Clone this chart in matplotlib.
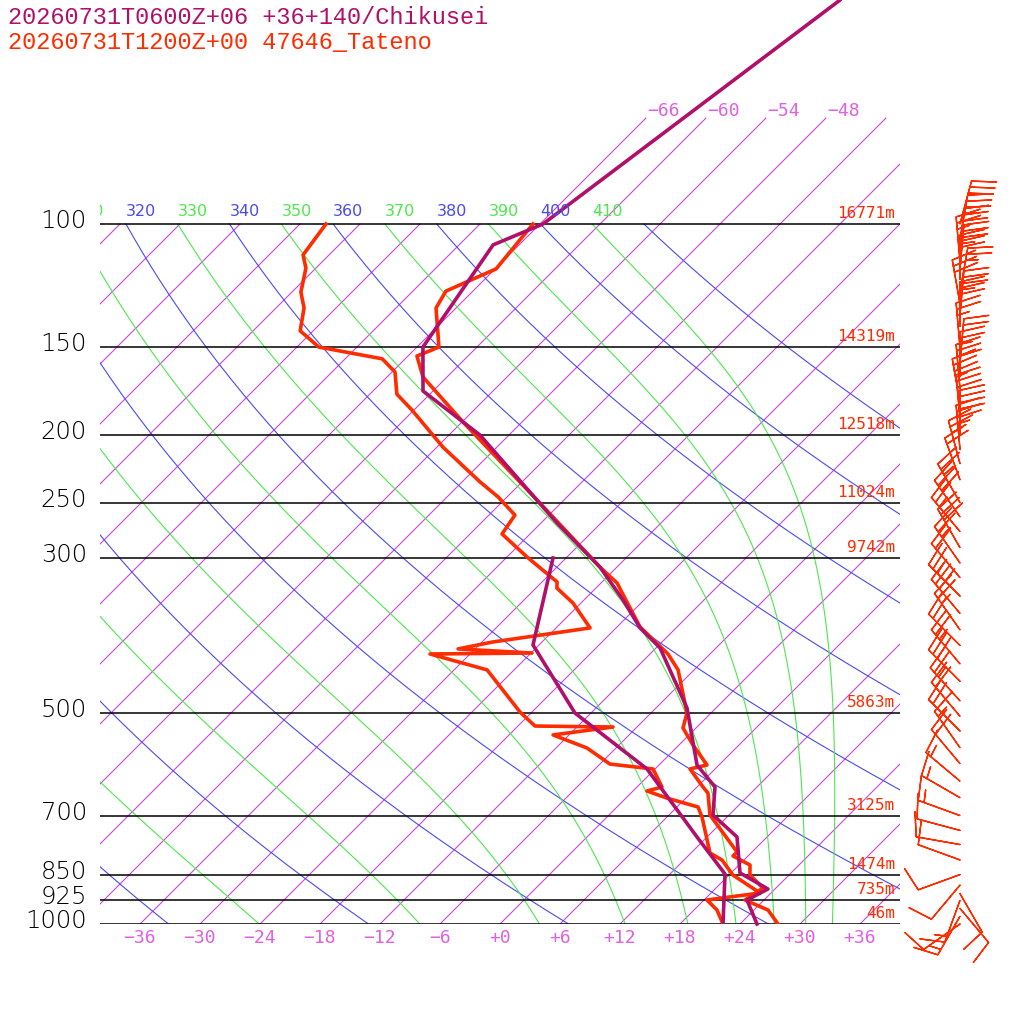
import numpy as np
import matplotlib
matplotlib.use("Agg")
import matplotlib.pyplot as plt

# ---- data -------------------------------------------------------------------
# Chikusei forecast (purple)
chk_t_p = [47.9, 100, 107.1, 149.9, 173.2, 200.2, 267.4, 309.1, 344.4, 377.6, 403.3,
           491.4, 592.7, 637.2, 698.7, 751.1, 845.5, 891.3, 924.1, 1000]
chk_t = [-58.4, -65.7, -68.6, -65.4, -61.0, -50.9, -34.4, -25.7, -20.1, -15.6, -11.6,
         -2.9, 3.8, 7.8, 10.4, 15.0, 18.9, 23.3, 22.3, 25.7]
chk_td_p = [300.0, 399.4, 499.6, 600.5, 751.1, 848.3, 1000]
chk_td = [-31.3, -24.6, -13.6, -0.8, 11.0, 17.5, 22.3]

# Tateno sounding (red)
tat_t_p = [100, 115.9, 124.7, 131.8, 149.9, 154.4, 165.4, 174.3, 191.8, 247.9, 309.1,
           325.7, 376.4, 411.4, 433.5, 499.6, 524.8, 555.0, 592.7, 600.5, 637.2, 650.0,
           698.7, 789.0, 799.5, 823.6, 851.3, 888.3, 924.1, 955.0, 1000]
tat_t = [-66.7, -65.9, -68.7, -68.0, -63.8, -65.1, -62.4, -59.4, -53.9, -38.7, -25.7,
         -22.4, -15.7, -10.2, -7.6, -2.4, -1.3, 1.4, 4.8, 3.5, 6.6, 7.7,
         10.1, 16.5, 16.5, 19.1, 20.1, 22.7, 22.1, 25.4, 27.8]
tat_td_p = [100, 110.7, 115.6, 125.1, 131.8, 142.1, 149.9, 155.8, 162.7, 175.0, 184.4,
            208.3, 233.6, 245.4, 260.5, 277.2, 299.0, 324.6, 331.2, 347.9, 377.6, 395.4,
            404.6, 410.1, 411.4, 433.5, 497.9, 521.4, 523.1, 536.9, 560.5, 590.9, 600.5,
            637.2, 645.6, 660.9, 680.5, 703.3, 791.7, 810.2, 851.3, 903.0, 924.1, 955.0, 1000]
tat_td = [-87.4, -86.6, -85.0, -83.1, -81.2, -79.3, -75.8, -68.3, -65.7, -63.3, -60.2,
          -53.4, -46.2, -42.9, -39.4, -38.8, -34.0, -28.5, -27.9, -24.8, -20.6, -28.9,
          -31.7, -23.9, -34.0, -26.7, -19.2, -16.3, -8.4, -13.6, -8.9, -5.0, -0.2,
          2.5, 1.4, 4.1, 8.1, 9.5, 13.9, 15.8, 18.4, 22.9, 18.3, 20.3, 22.3]

# Tateno winds
wind_p = [100, 105, 110, 113, 116, 120, 125, 130, 135, 140, 150, 158, 165, 172, 180,
          190, 200, 210, 220, 232, 250, 262, 275, 290, 305, 320, 340, 360, 380, 400,
          425, 450, 480, 505, 530, 560, 590, 625, 660, 700, 735, 770, 810, 850, 880,
          905, 925, 950, 975, 1000]
wind_dir = [15, 10, 5, 355, 5, 0, 10, 350, 5, 0, 355, 5, 0, 355, 350,
            355, 0, 355, 345, 340, 330, 325, 320, 330, 325, 320, 315, 320, 325, 315,
            320, 315, 318, 320, 315, 325, 320, 310, 300, 290, 285, 280, 290, 250, 220,
            150, 200, 140, 210, 235]
wind_spd = [30, 35, 30, 25, 35, 30, 25, 30, 35, 30, 25, 20, 25, 30, 35,
            30, 40, 35, 25, 20, 25, 30, 25, 30, 25, 20, 25, 30, 25, 20,
            25, 30, 25, 20, 20, 15, 20, 15, 15, 15, 10, 10, 10, 10, 10,
            10, 15, 10, 15, 10]

iso_p = [100, 150, 200, 250, 300, 500, 700, 850, 925, 1000]
iso_h = ["16771m", "14319m", "12518m", "11024m", "9742m", "5863m", "3125m",
         "1474m", "735m", "46m"]
dry_theta = list(range(200, 421, 20))
moist_theta = list(range(250, 411, 20))
isotherms = list(range(-120, 37, 6))
t_ticks = list(range(-36, 37, 6))

C_PURPLE = "#b0106a"
C_RED = "#ff2c00"
C_BLUE = "#4a4af0"
C_GREEN = "#4ce84c"
C_ISO = "#cc44dd"
C_LAB = "#e060e0"

SKEW = 30.4
P_TOP = 1000 * np.exp(-924 / 304)


def Y(p):
    return np.log(1000.0 / np.asarray(p, dtype=float))


def X(t, p):
    return np.asarray(t, dtype=float) + SKEW * Y(p)


fig = plt.figure(figsize=(10.24, 10.24), dpi=100)
ax = fig.add_axes([100 / 1024, 100 / 1024, 800 / 1024, 924 / 1024])
ax.set_xlim(-40, 40)
ax.set_ylim(0, Y(P_TOP))
ax.axis("off")

pp = np.exp(np.linspace(np.log(100), np.log(1000), 200))

# isotherms
for t in isotherms:
    ptop = 70.6 if t >= -66 else 100
    pl = np.array([ptop, 1000.0])
    ax.plot(X([t, t], pl), Y(pl), color=C_ISO, lw=0.8)
    if -66 <= t <= -48:
        ax.text(X(t, 70.6) + 0.1, Y(70.6) - 0.005, f"{t:+d}".replace("-", "\u2212"),
                color=C_LAB, fontsize=13, family="DejaVu Sans Mono", va="bottom")

# dry adiabats
for th in dry_theta:
    tk = th * (pp / 1000.0) ** 0.2857 - 273.15
    ax.plot(X(tk, pp), Y(pp), color=C_BLUE, lw=0.8)

# moist adiabats (pseudo), integrated down from 100 hPa
def moist(th):
    Rd, Cp, Lv, eps = 287.0, 1004.0, 2.5e6, 0.622
    ps = np.exp(np.linspace(np.log(100), np.log(1000), 400))
    T = th * (0.1) ** 0.2857
    out = []
    for i, p in enumerate(ps):
        out.append(T - 273.15)
        if i + 1 < len(ps):
            tc = T - 273.15
            es = 6.112 * np.exp(17.67 * tc / (tc + 243.5))
            rs = eps * es / (p - es)
            dTdp = (Rd * T + Lv * rs) / (p * (Cp + Lv ** 2 * rs * eps / (Rd * T ** 2)))
            T += dTdp * (ps[i + 1] - p)
    return ps, np.array(out)


for th in moist_theta:
    ps, tc = moist(th)
    ax.plot(X(tc, ps), Y(ps), color=C_GREEN, lw=0.8)

# adiabat labels
for th in range(310, 411, 10):
    col = C_BLUE if th % 20 == 0 else C_GREEN
    tk = th * 0.1 ** 0.2857 - 273.15
    ax.text(X(tk, 100), Y(100) + 0.015, str(th), color=col, fontsize=11.5,
            family="DejaVu Sans", va="bottom", ha="left", clip_on=True)

# isobars
for p, h in zip(iso_p, iso_h):
    ax.plot([-40, 40], [Y(p), Y(p)], color="black", lw=1.1)
    ax.text(-41.3, Y(p) + 0.01, str(p), fontsize=17.5, ha="right", va="center",
            family="DejaVu Sans", fontweight="light")
    ax.text(39.5, Y(p) + 0.01, h, color=C_RED, fontsize=11.5, ha="right", va="bottom",
            family="DejaVu Sans Mono")

for t in t_ticks:
    ax.text(t, -0.018, f"{t:+d}".replace("-", "\u2212"), color=C_LAB, fontsize=13,
            ha="center", va="top", family="DejaVu Sans Mono")

# profiles
ax.plot(X(tat_td, tat_td_p), Y(tat_td_p), color=C_RED, lw=2.6)
ax.plot(X(tat_t, tat_t_p), Y(tat_t_p), color=C_RED, lw=2.6)
ax.plot(X(chk_td, chk_td_p), Y(chk_td_p), color=C_PURPLE, lw=2.6)
ax.plot(X(chk_t, chk_t_p), Y(chk_t_p), color=C_PURPLE, lw=2.6, clip_on=False)

# wind barbs
d = np.radians(wind_dir)
spd = np.array(wind_spd, dtype=float)
u = -spd * np.sin(d)
v = -spd * np.cos(d)
ax.barbs(np.full(len(wind_p), 46.0), Y(wind_p), u, v, color=C_RED, length=8,
         linewidth=1.0, clip_on=False, sizes=dict(emptybarb=0, height=0.55, spacing=0.14))

fig.text(8 / 1024, 1 - 18 / 1024, "20260731T0600Z+06 +36+140/Chikusei", color=C_PURPLE,
         fontsize=17, family="Liberation Mono", va="center")
fig.text(8 / 1024, 1 - 42 / 1024, "20260731T1200Z+00 47646_Tateno", color=C_RED,
         fontsize=17, family="Liberation Mono", va="center")

fig.savefig("out.png", dpi=100, facecolor="white")
